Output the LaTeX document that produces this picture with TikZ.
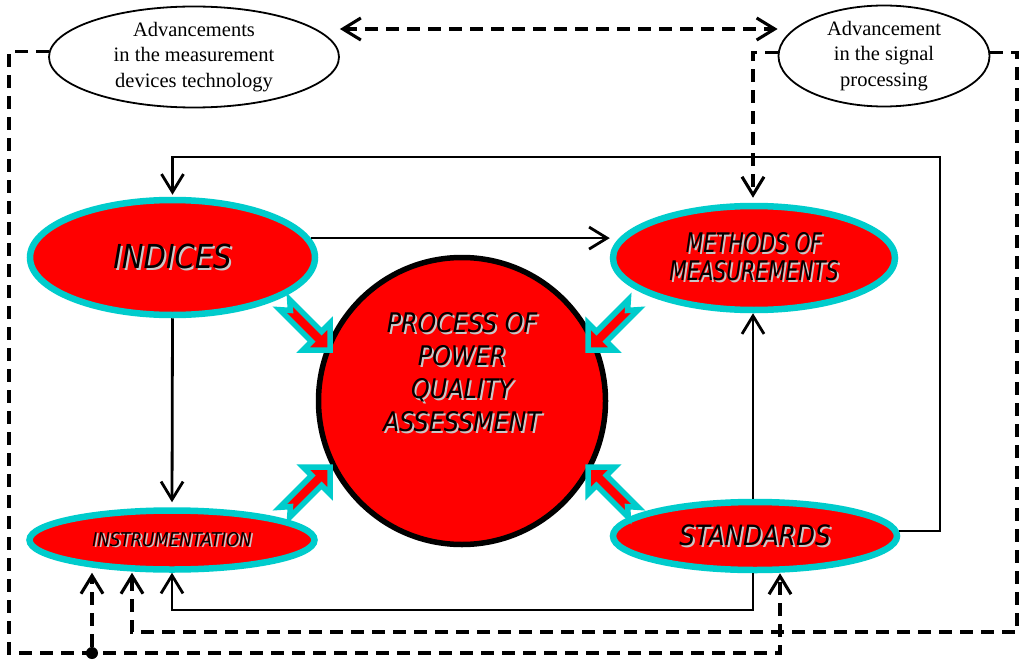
\documentclass[tikz,border=0pt]{standalone}
\usepackage{fontspec}
\usepackage{graphicx}
\setmainfont{Liberation Serif}
\newfontfamily\tahfont{DejaVu Sans}[FakeStretch=0.88]
\newfontfamily\tahnarrow{DejaVu Sans}[FakeStretch=0.75]
\usetikzlibrary{arrows.meta,shapes.geometric}
\definecolor{pqred}{RGB}{255,0,0}
\definecolor{pqcyan}{RGB}{0,204,204}
\definecolor{shgrey}{RGB}{200,200,200}
\newcommand\shd[1]{\leavevmode\rlap{\kern2pt\raisebox{-1.8pt}{\textcolor{shgrey}{#1}}}#1}
\newcommand\blockarr[2]{%
  \begin{scope}[shift={#1}, rotate=#2]
    \draw[barrow] (-64,7) -- (-19,7) -- (-19,19) -- (0,0) -- (-19,-19) -- (-19,-7) -- (-64,-7) -- (-56,0) -- cycle;
  \end{scope}}
\tikzset{
  barb/.tip={Straight Barb[length=18pt,width=22pt]},
  big/.style={ellipse, draw=pqcyan, fill=pqred, line width=6.5pt, inner sep=0pt, align=center},
  adv/.style={ellipse, draw=black, fill=white, line width=1.8pt, inner sep=0pt, align=center,
    font=\fontsize{20.5}{25.5}\selectfont},
  conn/.style={line width=2.8pt, -barb},
  dconn/.style={line width=3.1pt, dash pattern=on 13pt off 8pt, -barb},
  barrow/.style={draw=pqcyan, fill=pqred, line width=5.5pt, line join=miter},
}
\begin{document}
\begin{tikzpicture}[x=1pt,y=-1pt]
\useasboundingbox (0,0) rectangle (1024,663);
\fill[white] (0,0) rectangle (1024,663);

% top ellipses
\node[adv, minimum width=290, minimum height=101] (adv1) at (194,57)
  {Advancements\\in the measurement\\devices technology};
\node[adv, minimum width=211, minimum height=101] (adv2) at (884,56)
  {Advancement\\in the signal\\processing};

% main ellipses
\node[big, minimum width=285, minimum height=115,
  font=\tahfont\itshape\fontsize{33}{40}\selectfont] (ind) at (172.5,257.5) {\shd{INDICES}};
\node[big, minimum width=282, minimum height=104,
  font=\tahnarrow\itshape\fontsize{27}{28}\selectfont] (meth) at (754,258)
  {\shd{METHODS OF}\\\shd{MEASUREMENTS}};
\node[big, minimum width=285, minimum height=59,
  font=\tahfont\itshape\fontsize{19}{22}\selectfont] (instr) at (172,540) {\shd{INSTRUMENTATION}};
\node[big, minimum width=284, minimum height=68,
  font=\tahfont\itshape\fontsize{28}{32}\selectfont] (std) at (755,536) {\shd{STANDARDS}};

% central circle
\node[circle, draw=black, fill=pqred, line width=5.5pt, minimum size=287, inner sep=0pt] (pqa) at (462,401) {};
\node[align=center, font=\tahfont\itshape\fontsize{27}{33}\selectfont] (pqatext) at (462,373)
  {\shd{PROCESS OF}\\\shd{POWER}\\\shd{QUALITY}\\\shd{ASSESSMENT}};

% helper coordinates
\coordinate (y29) at (0,29);
\coordinate (x753) at (753,0);
\coordinate (x780) at (780,0);
\coordinate (x132) at (132,0);
\coordinate (c940) at (940,157);
\coordinate (c610) at (753,610);
\coordinate (c9) at (9,653);
\coordinate (c1017) at (1017,632);
\node[circle, fill=black, minimum size=12pt, inner sep=0pt] (j) at (92,653) {};

% solid connectors
\draw[conn] (ind.8) -- (ind.8 -| meth.west);
\draw[conn, shorten >=5pt] (ind.south) -- (instr.north);
\draw[conn, shorten >=2pt] (std.2) -| (c940) -| (ind.north);
\draw[conn] (x753 |- std.north) -- (x753 |- meth.south);
\draw[conn] (x753 |- std.south) -- (c610) -| (instr.south);

% dashed connectors
\draw[dconn, barb-barb] (adv1.east |- y29) -- (adv2.west |- y29);
\draw[dconn, shorten >=5pt] (adv2.178) -| (x753 |- meth.north);
\draw[dconn] (adv1.178) -| (c9) -| (x780 |- std.south);
\draw[dconn] (j) -- (instr.south -| j);
\draw[dconn] (adv2.2) -| (c1017) -| (x132 |- instr.south);

% block arrows
\blockarr{(330,350)}{-45}
\blockarr{(330,467)}{45}
\blockarr{(588,350)}{-135}
\blockarr{(588,467)}{135}
\end{tikzpicture}
\end{document}
